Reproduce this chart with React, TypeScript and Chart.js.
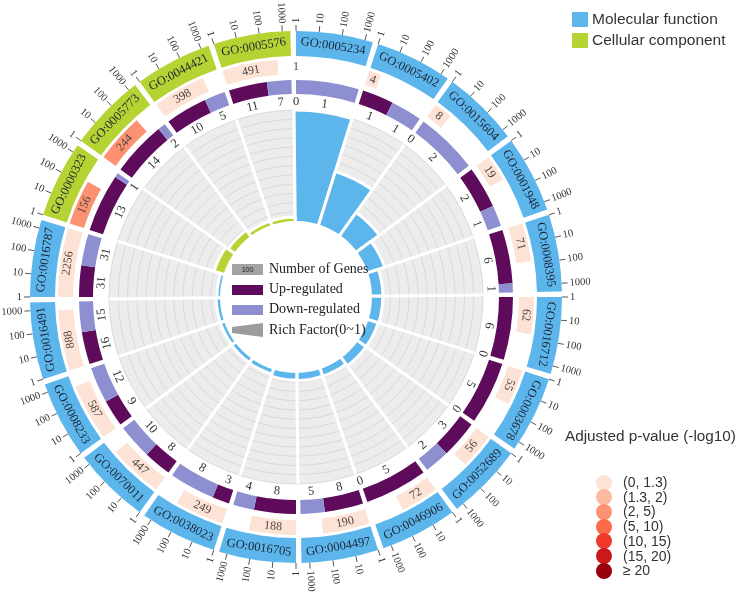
import React, { useEffect, useRef } from "react";
import { Chart, registerables } from "chart.js";

Chart.register(...registerables);

// GO terms, clockwise from 12 o'clock
const GO_TERMS = [
  "GO:0005234", "GO:0005402", "GO:0015604", "GO:0001948", "GO:0008395",
  "GO:0016712", "GO:0003678", "GO:0052689", "GO:0046906", "GO:0004497",
  "GO:0016705", "GO:0038023", "GO:0070011", "GO:0008233", "GO:0016491",
  "GO:0016787", "GO:0000323", "GO:0005773", "GO:0044421", "GO:0005576",
];
const ONTOLOGY = [
  "MF", "MF", "MF", "MF", "MF", "MF", "MF", "MF", "MF", "MF",
  "MF", "MF", "MF", "MF", "MF", "MF", "CC", "CC", "CC", "CC",
];
const BG_GENES = [1, 4, 8, 19, 71, 62, 55, 56, 72, 190, 188, 249, 447, 587, 888, 2256, 156, 244, 398, 491];
const UP_GENES = [0, 1, 0, 2, 6, 6, 5, 3, 5, 8, 8, 3, 8, 9, 16, 31, 13, 14, 10, 11];
const DOWN_GENES = [1, 1, 2, 1, 1, 0, 0, 2, 0, 5, 4, 8, 10, 12, 15, 31, 1, 2, 5, 7];
// index into P_LABELS
const P_CLASS = [0, 0, 0, 0, 0, 0, 0, 0, 0, 0, 0, 0, 0, 0, 0, 0, 2, 2, 0, 0];
const AXIS_TICKS = [1, 10, 100, 1000];
const P_LABELS = ["(0, 1.3)", "(1.3, 2)", "(2, 5)", "(5, 10)", "(10, 15)", "(15, 20)", "\u2265 20"];

const P_COLORS = ["#fde2d6", "#fcbba1", "#fc9272", "#fb6a4a", "#ef3b2c", "#cb181d", "#99000d"];
const ONTO_COLORS: Record<string, string> = { MF: "#5cb6ec", CC: "#b5d333" };
const ONTO_NAMES: Record<string, string> = { MF: "Molecular function", CC: "Cellular component" };
const UP_COLOR = "#5e0b5b";
const DOWN_COLOR = "#8d8fd0";
const CLEAR = "rgba(0,0,0,0)";
const SERIF = '"Liberation Serif", "Times New Roman", serif';
const SANS = '"Liberation Sans", Arial, sans-serif';

const W = 740;
const H = 607;
const CX = 296;
const CY = 297;
const OUTER = 266; // outer edge of the GO label ring
const INNER = 203; // inner edge of up/down ring
const GRID_OUT = 187;
const GRID_IN = 76;
const SPAN = 16.8; // degrees used by each term
const GAP = 1.2; // degrees between terms

const LOG_MAX = Math.log10(Math.max(...BG_GENES));
const richFactor = BG_GENES.map((n, i) => (UP_GENES[i] + DOWN_GENES[i]) / n);

const compass = (ang: number) => ((((ang * 180) / Math.PI + 90) % 360) + 360) % 360;
const flipped = (ang: number) => {
  const d = compass(ang);
  return d > 126 && d < 252;
};

function tangentText(ctx: CanvasRenderingContext2D, cx: number, cy: number, ang: number, r: number, text: string, flip: boolean) {
  ctx.save();
  ctx.translate(cx + r * Math.cos(ang), cy + r * Math.sin(ang));
  ctx.rotate(flip ? ang - Math.PI / 2 : ang + Math.PI / 2);
  ctx.textAlign = "center";
  ctx.textBaseline = "middle";
  ctx.fillText(text, 0, 0);
  ctx.restore();
}

function radialText(ctx: CanvasRenderingContext2D, cx: number, cy: number, ang: number, r: number, text: string) {
  ctx.save();
  ctx.translate(cx + r * Math.cos(ang), cy + r * Math.sin(ang));
  if (compass(ang) < 180) {
    ctx.rotate(ang);
    ctx.textAlign = "left";
  } else {
    ctx.rotate(ang + Math.PI);
    ctx.textAlign = "right";
  }
  ctx.textBaseline = "middle";
  ctx.fillText(text, 0, 0);
  ctx.restore();
}

// texts and log axis on the outer rings
const ringText = {
  id: "ringText",
  afterDatasetsDraw(chart: any) {
    const ctx: CanvasRenderingContext2D = chart.ctx;
    const labelArcs = chart.getDatasetMeta(0).data;
    const countArcs = chart.getDatasetMeta(2).data;
    const regArcs = chart.getDatasetMeta(4).data;
    GO_TERMS.forEach((term, i) => {
      const a = labelArcs[2 * i];
      const mid = (a.startAngle + a.endAngle) / 2;
      const flip = flipped(mid);

      ctx.fillStyle = "#1c2536";
      ctx.font = `12.5px ${SERIF}`;
      tangentText(ctx, a.x, a.y, mid, (a.innerRadius + a.outerRadius) / 2, term, flip);

      // log10 axis of background gene numbers
      ctx.strokeStyle = "#555";
      ctx.lineWidth = 1;
      ctx.fillStyle = "#333";
      ctx.font = `10.5px ${SERIF}`;
      AXIS_TICKS.forEach((v) => {
        const ang = a.startAngle + ((a.endAngle - a.startAngle) * Math.log10(v)) / LOG_MAX;
        const c = Math.cos(ang);
        const s = Math.sin(ang);
        ctx.beginPath();
        ctx.moveTo(a.x + a.outerRadius * c, a.y + a.outerRadius * s);
        ctx.lineTo(a.x + (a.outerRadius + 6) * c, a.y + (a.outerRadius + 6) * s);
        ctx.stroke();
        radialText(ctx, a.x, a.y, ang, a.outerRadius + 8, String(v));
      });

      const cb = countArcs[3 * i];
      ctx.fillStyle = "#4d4540";
      ctx.font = `12px ${SERIF}`;
      tangentText(ctx, cb.x, cb.y, (cb.startAngle + cb.endAngle) / 2, (cb.innerRadius + cb.outerRadius) / 2, String(BG_GENES[i]), flip);

      const u = regArcs[3 * i];
      const d = regArcs[3 * i + 1];
      ctx.fillStyle = "#333";
      ctx.font = `12.5px ${SERIF}`;
      tangentText(ctx, u.x, u.y, (u.startAngle + u.endAngle) / 2, u.innerRadius - 8, String(UP_GENES[i]), flip);
      tangentText(ctx, d.x, d.y, (d.startAngle + d.endAngle) / 2, d.innerRadius - 8, String(DOWN_GENES[i]), flip);
    });
  },
};

// white centre under the legend
const innerHole = {
  id: "innerHole",
  afterDatasetsDraw(chart: any) {
    const scale = chart.scales.r;
    const r0 = scale.getDistanceFromCenterForValue(0);
    const ctx: CanvasRenderingContext2D = chart.ctx;
    ctx.save();
    ctx.beginPath();
    ctx.arc(scale.xCenter, scale.yCenter, r0, 0, Math.PI * 2);
    ctx.fillStyle = "#ffffff";
    ctx.fill();
    ctx.restore();
  },
};

const abs = (left: number, top: number, extra: React.CSSProperties = {}): React.CSSProperties => ({
  position: "absolute",
  left,
  top,
  ...extra,
});

export default function App() {
  const polarRef = useRef<HTMLCanvasElement | null>(null);
  const ringRef = useRef<HTMLCanvasElement | null>(null);

  useEffect(() => {
    if (!polarRef.current || !ringRef.current) return;

    const polar = new Chart(polarRef.current, {
      type: "polarArea",
      data: {
        labels: GO_TERMS,
        datasets: [
          {
            data: richFactor,
            backgroundColor: ONTOLOGY.map((o) => ONTO_COLORS[o]),
            borderColor: "#ffffff",
            borderWidth: 3,
          },
        ],
      },
      options: {
        responsive: false,
        animation: false,
        events: [],
        layout: {
          padding: { left: CX - GRID_OUT, top: CY - GRID_OUT, right: W - CX - GRID_OUT, bottom: H - CY - GRID_OUT },
        },
        plugins: { legend: { display: false }, tooltip: { enabled: false } },
        scales: {
          r: {
            min: -GRID_IN / (GRID_OUT - GRID_IN),
            max: 1,
            startAngle: -GAP / 2,
            backgroundColor: "#ececec",
            ticks: { display: false, stepSize: 1 / 12 },
            grid: { circular: true, color: "#d9d9d9", lineWidth: 1 },
            angleLines: { display: true, color: "#ffffff", lineWidth: 3 },
            pointLabels: { display: false },
          },
        },
      } as any,
      plugins: [innerHole],
    });

    const rings = new Chart(ringRef.current, {
      type: "doughnut",
      data: {
        datasets: [
          {
            data: GO_TERMS.flatMap(() => [SPAN, GAP]),
            backgroundColor: ONTOLOGY.flatMap((o) => [ONTO_COLORS[o], CLEAR]),
            borderWidth: 0,
            weight: 25,
          },
          { data: [1], backgroundColor: [CLEAR], borderWidth: 0, weight: 3 },
          {
            data: BG_GENES.flatMap((n) => {
              const len = (SPAN * Math.log10(n)) / LOG_MAX;
              return [len, SPAN - len, GAP];
            }),
            backgroundColor: P_CLASS.flatMap((c) => [P_COLORS[c], CLEAR, CLEAR]),
            borderWidth: 0,
            weight: 15,
          },
          { data: [1], backgroundColor: [CLEAR], borderWidth: 0, weight: 6 },
          {
            data: UP_GENES.flatMap((u, i) => {
              const t = u + DOWN_GENES[i];
              return [(SPAN * u) / t, (SPAN * DOWN_GENES[i]) / t, GAP];
            }),
            backgroundColor: GO_TERMS.flatMap(() => [UP_COLOR, DOWN_COLOR, CLEAR]),
            borderWidth: 0,
            weight: 14,
          },
        ],
      } as any,
      options: {
        responsive: false,
        animation: false,
        events: [],
        radius: OUTER,
        cutout: `${(INNER / OUTER) * 100}%`,
        hoverOffset: 0,
        layout: {
          padding: { left: CX - OUTER, top: CY - OUTER, right: W - CX - OUTER, bottom: H - CY - OUTER },
        },
        plugins: { legend: { display: false }, tooltip: { enabled: false } },
      } as any,
      plugins: [ringText],
    });

    return () => {
      polar.destroy();
      rings.destroy();
    };
  }, []);

  const serifLabel: React.CSSProperties = { fontFamily: SERIF, fontSize: 14, color: "#222", lineHeight: "16px", whiteSpace: "nowrap" };
  const sansLabel: React.CSSProperties = { fontFamily: SANS, fontSize: 15.5, color: "#333", lineHeight: "16px", whiteSpace: "nowrap" };

  return (
    <div style={{ position: "fixed", left: 0, top: 0, width: W, height: H, background: "#fff", overflow: "hidden" }}>
      <canvas ref={polarRef} width={W} height={H} style={abs(0, 0)} />
      <canvas ref={ringRef} width={W} height={H} style={abs(0, 0)} />

      {/* centre legend */}
      <div style={abs(232, 264, { width: 31, height: 11, background: "#a3a3a3", fontFamily: SANS, fontSize: 7, lineHeight: "11px", textAlign: "center", color: "#222" })}>100</div>
      <div style={abs(269, 261, serifLabel)}>Number of Genes</div>
      <div style={abs(232, 285, { width: 31, height: 10, background: UP_COLOR })} />
      <div style={abs(269, 281, serifLabel)}>Up-regulated</div>
      <div style={abs(232, 305, { width: 31, height: 10, background: DOWN_COLOR })} />
      <div style={abs(269, 301, serifLabel)}>Down-regulated</div>
      <div style={abs(232, 323, { width: 31, height: 14, background: "#9c9c9c", clipPath: "polygon(0 28%, 100% 0, 100% 100%, 0 72%)" })} />
      <div style={abs(269, 322, serifLabel)}>Rich Factor(0~1)</div>

      {/* ontology legend */}
      {["MF", "CC"].map((o, k) => (
        <React.Fragment key={o}>
          <div style={abs(572, 12 + k * 21, { width: 16, height: 15, background: ONTO_COLORS[o] })} />
          <div style={abs(592, 11 + k * 21, sansLabel)}>{ONTO_NAMES[o]}</div>
        </React.Fragment>
      ))}

      {/* p-value legend */}
      <div style={abs(565, 428, { ...sansLabel, fontSize: 15.3 })}>Adjusted p-value (-log10)</div>
      {P_LABELS.map((label, k) => (
        <React.Fragment key={label}>
          <div style={abs(595.5, 474.5 + k * 14.7, { width: 16, height: 16, borderRadius: "50%", background: P_COLORS[k] })} />
          <div style={abs(623, 474 + k * 14.7, { ...sansLabel, fontSize: 14 })}>{label}</div>
        </React.Fragment>
      ))}
    </div>
  );
}
